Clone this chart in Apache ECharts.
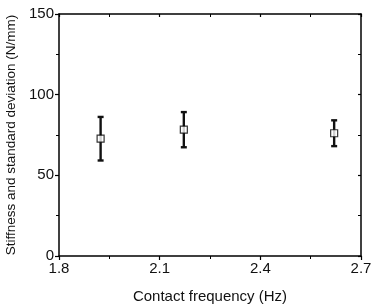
<!DOCTYPE html>
<html><head><meta charset="utf-8">
<script src="https://cdn.jsdelivr.net/npm/echarts@6/dist/echarts.min.js"></script>
<style>html,body{margin:0;padding:0;background:#fff}#c{width:375px;height:305px}</style>
</head><body><div id="c"></div>
<script>
var frequencies = [1.924, 2.172, 2.620];
var stiffness = [72.7, 78.3, 76.1];
var stdDev = [13.5, 10.9, 8.0];
var xTicks = [1.8, 2.1, 2.4, 2.7];
var yTicks = [0, 50, 100, 150];

var chart = echarts.init(document.getElementById('c'));
var font = '"Liberation Sans", Arial, sans-serif';
var errData = frequencies.map(function(f, i){ return [f, stiffness[i] - stdDev[i], stiffness[i] + stdDev[i]]; });
var ptData = frequencies.map(function(f, i){ return [f, stiffness[i]]; });
function ax(inside){
  return {
    axisLine: {show: true, onZero: false, lineStyle: {color: '#000', width: 1.5}},
    axisTick: {show: true, inside: inside, length: inside ? 3 : 4, lineStyle: {color: '#000', width: 1.2}},
    minorTick: {show: true, splitNumber: 2, length: 3, lineStyle: {color: '#000', width: 1}},
    splitLine: {show: false}
  };
}
chart.setOption({
  animation: false,
  grid: {left: 59, right: 14, top: 14, bottom: 49, containLabel: false, outerBoundsMode: 'none'},
  xAxis: [
    Object.assign({type: 'value', min: xTicks[0], max: xTicks[xTicks.length-1], interval: 0.3,
      name: 'Contact frequency (Hz)', nameLocation: 'middle', nameGap: 33,
      nameTextStyle: {fontFamily: font, fontSize: 15, color: '#111'},
      axisLabel: {fontFamily: font, fontSize: 15, color: '#111', margin: 5,
        formatter: function(v){ return v.toFixed(1); }}}, ax(false)),
    Object.assign({type: 'value', position: 'top', min: xTicks[0], max: xTicks[xTicks.length-1], interval: 0.3,
      axisLabel: {show: false}}, ax(true))
  ],
  yAxis: [
    Object.assign({type: 'value', min: yTicks[0], max: yTicks[yTicks.length-1], interval: 50,
      name: 'Stiffness and standard deviation (N/mm)', nameLocation: 'middle', nameGap: 38,
      nameTextStyle: {fontFamily: font, fontSize: 13.5, color: '#111'},
      axisLabel: {fontFamily: font, fontSize: 15, color: '#111', margin: 5}}, ax(false)),
    Object.assign({type: 'value', position: 'right', min: yTicks[0], max: yTicks[yTicks.length-1], interval: 50,
      axisLabel: {show: false}}, ax(true))
  ],
  series: [
    {
      type: 'custom',
      data: errData,
      renderItem: function(params, api){
        var x = api.value(0);
        var lo = api.coord([x, api.value(1)]);
        var hi = api.coord([x, api.value(2)]);
        var w = 3;
        var st = {stroke: '#111', lineWidth: 2.4};
        return {type: 'group', children: [
          {type: 'line', shape: {x1: lo[0], y1: lo[1], x2: hi[0], y2: hi[1]}, style: st},
          {type: 'line', shape: {x1: lo[0]-w, y1: lo[1], x2: lo[0]+w, y2: lo[1]}, style: st},
          {type: 'line', shape: {x1: hi[0]-w, y1: hi[1], x2: hi[0]+w, y2: hi[1]}, style: st}
        ]};
      },
      z: 2
    },
    {
      type: 'scatter',
      data: ptData,
      symbol: 'rect',
      symbolSize: 7,
      itemStyle: {color: '#fff', borderColor: '#000', borderWidth: 1.2},
      z: 3
    }
  ]
});
</script></body></html>
